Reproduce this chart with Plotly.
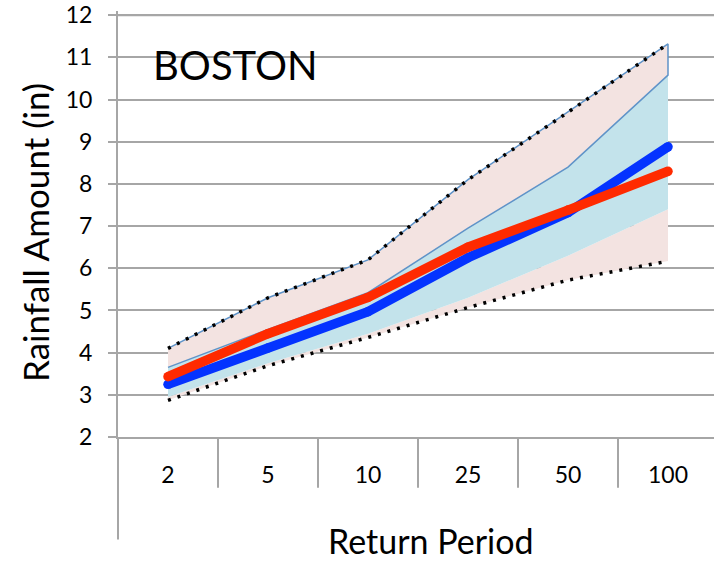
import plotly.graph_objects as go

# ---- data ----
categories = ["2", "5", "10", "25", "50", "100"]
upper_outer = [4.10, 5.30, 6.20, 8.10, 9.70, 11.32]
upper_inner = [3.65, 4.55, 5.42, 6.95, 8.40, 10.58]
lower_inner = [2.95, 3.75, 4.45, 5.30, 6.30, 7.40]
lower_outer = [2.87, 3.69, 4.36, 5.07, 5.72, 6.17]
red_series = [3.43, 4.45, 5.31, 6.50, 7.38, 8.30]
blue_series = [3.25, 4.11, 4.97, 6.25, 7.32, 8.88]
y_ticks = list(range(2, 13))

FONT = "Lato"
PINK = "#f3e3e1"
LIGHTBLUE = "#c3e3eb"
OUTLINE = "#5f93c8"
GRID = "#a6a6a6"

idx = list(range(len(categories)))
rev = idx[::-1]

fig = go.Figure()

# lower pink band
fig.add_trace(go.Scatter(
    x=idx + rev, y=lower_outer + lower_inner[::-1],
    fill="toself", fillcolor=PINK, mode="lines",
    line=dict(width=0), hoverinfo="skip"))
# light blue band
fig.add_trace(go.Scatter(
    x=idx + rev, y=lower_inner + upper_inner[::-1],
    fill="toself", fillcolor=LIGHTBLUE, mode="lines",
    line=dict(width=0), hoverinfo="skip"))
# upper pink band with outline
fig.add_trace(go.Scatter(
    x=idx + rev, y=upper_inner + upper_outer[::-1],
    fill="toself", fillcolor=PINK, mode="lines",
    line=dict(width=1.5, color=OUTLINE), hoverinfo="skip"))

# dotted outer bounds
for series in (upper_outer, lower_outer):
    fig.add_trace(go.Scatter(
        x=idx, y=series, mode="lines",
        line=dict(color="black", width=3.5, dash="3px,7px")))

# blue and red lines
fig.add_trace(go.Scatter(
    x=idx, y=blue_series, mode="lines+markers",
    line=dict(color="#0433ff", width=9.5),
    marker=dict(size=9.5, color="#0433ff")))
fig.add_trace(go.Scatter(
    x=idx, y=red_series, mode="lines+markers",
    line=dict(color="#ff2a00", width=9.5),
    marker=dict(size=9.5, color="#ff2a00")))

W, H = 714, 561
ML, MT, MB = 118, 9, 124
Y_MIN, Y_MAX = 2, 12.1
plot_w = W - ML
plot_h = H - MT - MB
BASE = H - MB  # pixel row of the x axis


def py(pix):
    return (BASE - pix) / plot_h


def px(pix):
    return (pix - ML) / plot_w


shapes = []
# top gridline (plotly drops the one nearest the edge)
shapes.append(dict(type="line", xref="paper", yref="y", layer="below",
                   x0=0, x1=1, y0=y_ticks[-1], y1=y_ticks[-1],
                   line=dict(color=GRID, width=2)))
# category dividers below the axis
for i in range(len(categories) + 1):
    shapes.append(dict(type="line", xref="x", yref="paper",
                       x0=i - 0.5, x1=i - 0.5, y0=0, y1=py(488),
                       line=dict(color=GRID, width=2)))
# extended y axis line
shapes.append(dict(type="line", xref="paper", yref="paper",
                   x0=0, x1=0, y0=0, y1=py(540),
                   line=dict(color=GRID, width=2)))
# white box behind the city name
shapes.append(dict(type="rect", xref="paper", yref="paper", layer="between",
                   x0=px(133), x1=px(432), y0=py(99), y1=py(28),
                   fillcolor="white", line=dict(width=0)))
shapes.append(dict(type="line", xref="paper", yref="y", layer="between",
                   x0=px(133), x1=px(432), y0=10, y1=10,
                   line=dict(color="#c8c8c8", width=1)))

fig.update_layout(
    width=W, height=H,
    margin=dict(l=ML, r=0, t=MT, b=MB),
    paper_bgcolor="white", plot_bgcolor="white",
    showlegend=False,
    font=dict(family=FONT, color="black"),
    shapes=shapes,
    xaxis=dict(range=[-0.5, plot_w / 100 - 0.5], tickvals=idx, ticktext=categories,
               showgrid=False, zeroline=False, showline=True, linecolor=GRID, linewidth=2,
               ticks="", tickfont=dict(size=23, family=FONT), ticklabelstandoff=16),
    yaxis=dict(range=[Y_MIN, Y_MAX], tickvals=y_ticks, showgrid=True, gridcolor=GRID, gridwidth=2,
               zeroline=False, showline=True, linecolor=GRID, linewidth=2,
               ticks="outside", ticklen=8, tickwidth=2, tickcolor=GRID,
               ticklabeloverflow="allow",
               tickfont=dict(size=23, family=FONT), ticklabelstandoff=11),
    annotations=[
        dict(text="BOSTON", xref="paper", yref="paper", x=px(151), y=py(63),
             xanchor="left", yanchor="middle", showarrow=False,
             font=dict(size=40, family=FONT, color="black")),
        dict(text="Rainfall Amount (in)", xref="paper", yref="paper",
             x=px(35), y=py(232), textangle=-90,
             xanchor="center", yanchor="middle", showarrow=False,
             font=dict(size=35, family=FONT, color="black")),
        dict(text="Return Period", xref="paper", yref="paper",
             x=px(431), y=py(541),
             xanchor="center", yanchor="middle", showarrow=False,
             font=dict(size=34, family=FONT, color="black")),
    ],
)

fig.write_html("out.html", config={"displayModeBar": False},
               post_script="document.body.style.margin='0';")
